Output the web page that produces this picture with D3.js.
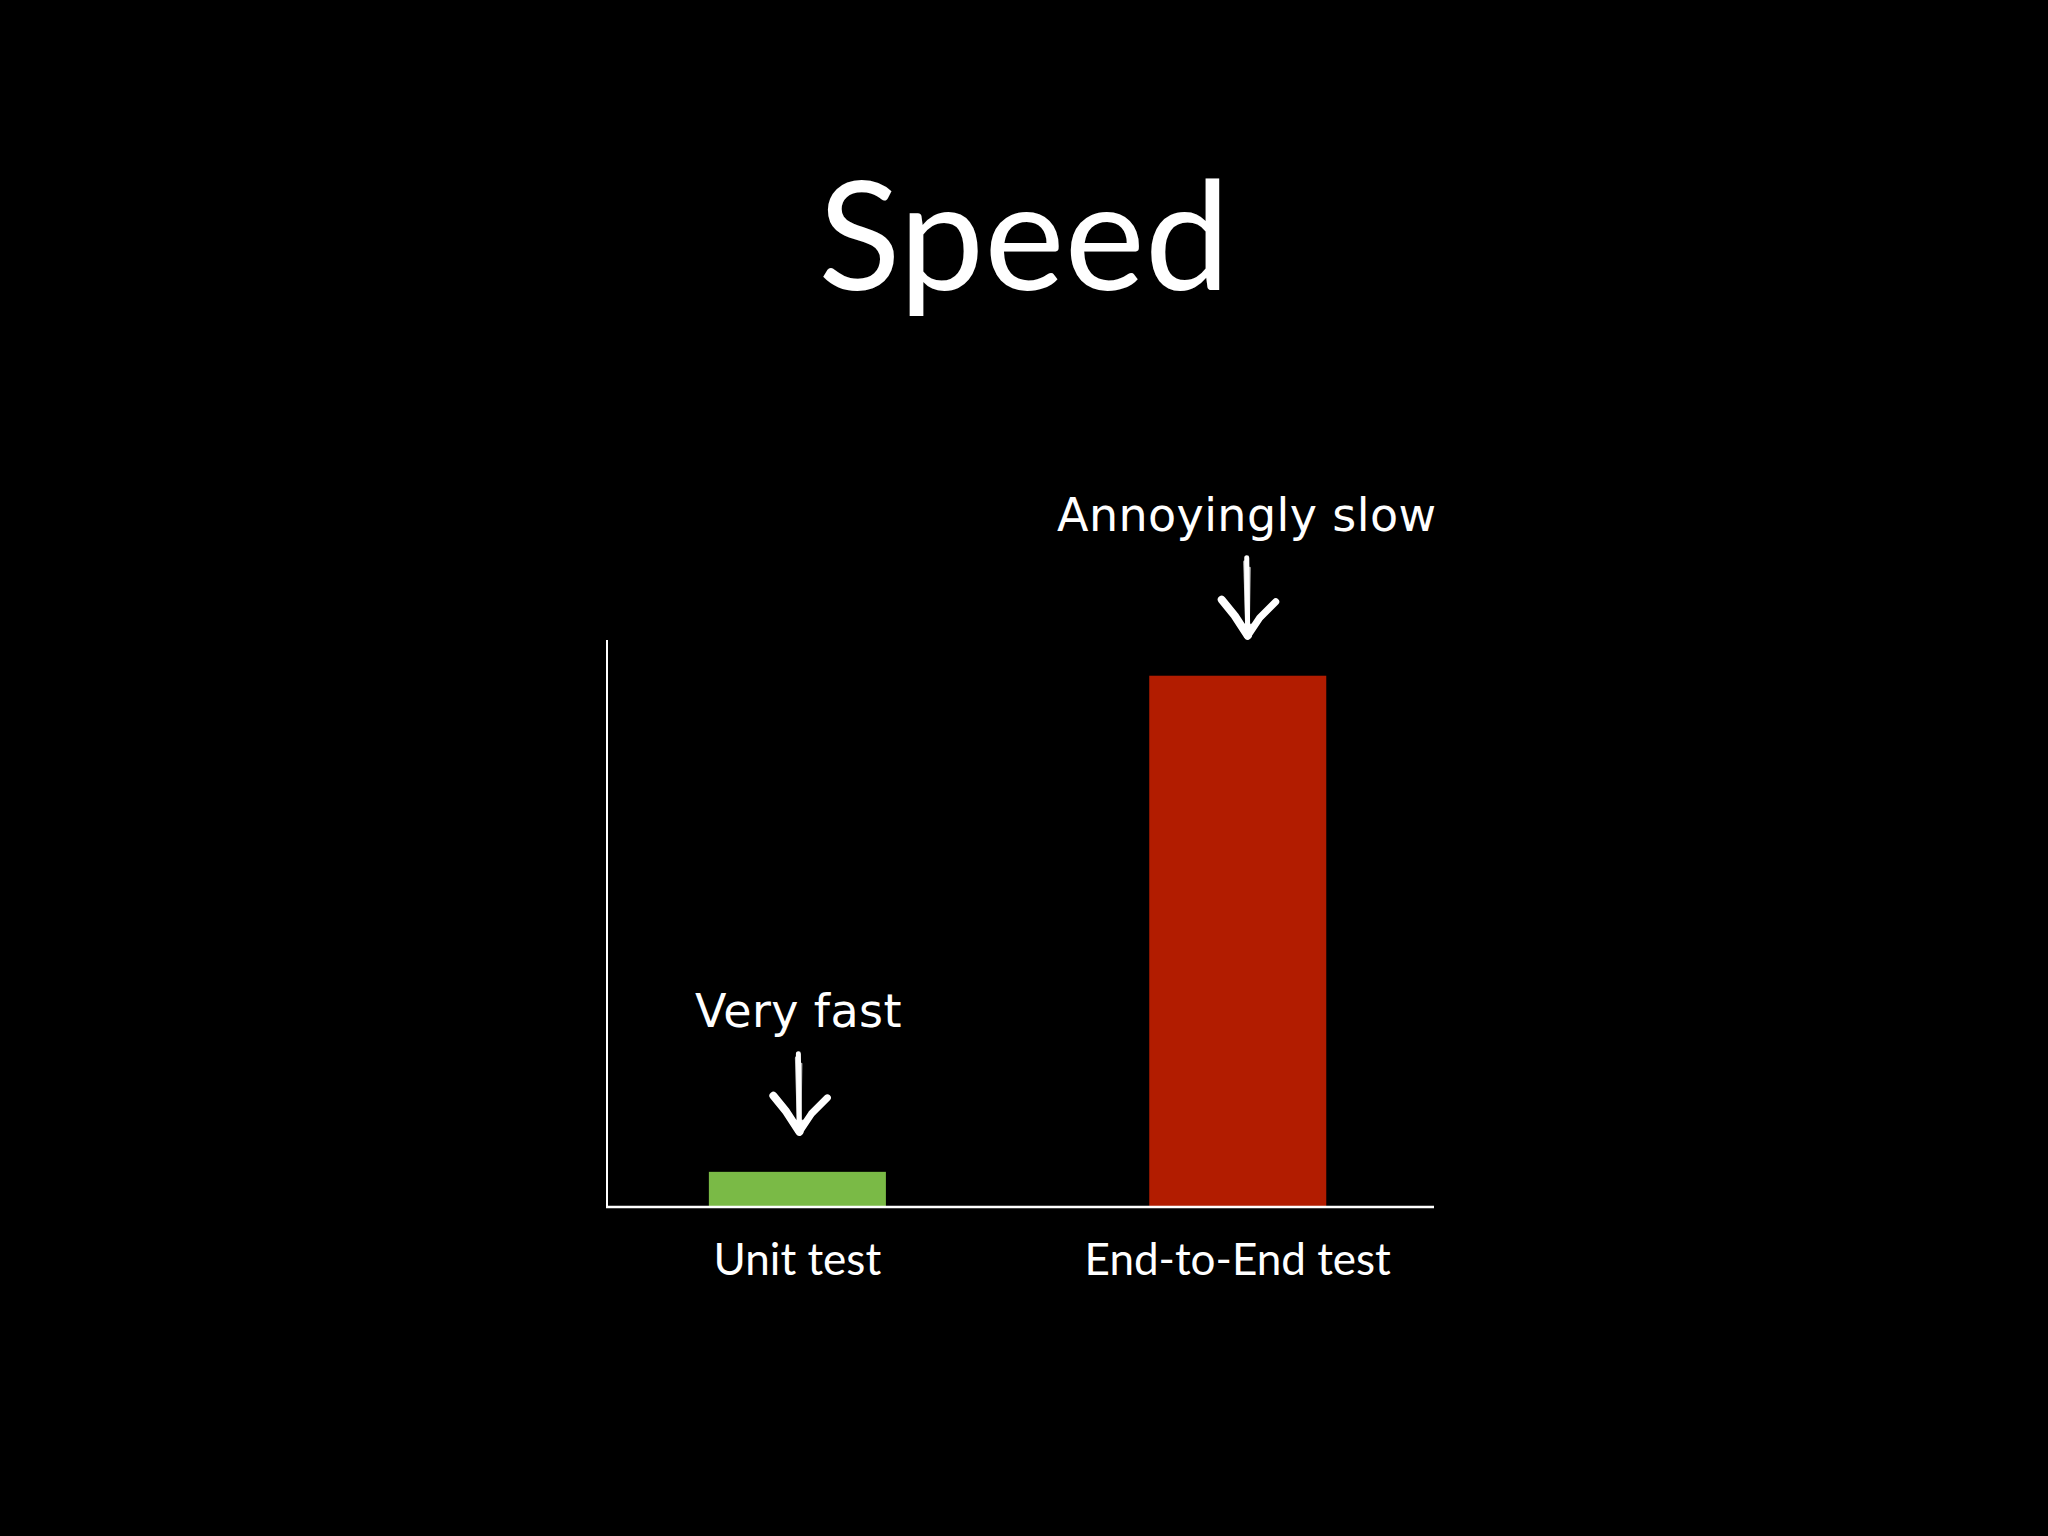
<!DOCTYPE html>
<html>
<head>
<meta charset="utf-8">
<script src="https://cdn.jsdelivr.net/npm/d3@7"></script>
<style>
  html, body { margin: 0; padding: 0; background: #000; }
  svg { display: block; }
</style>
</head>
<body>
<div id="chart"></div>
<script>
// data
const categories = ['Unit test', 'End-to-End test'];
const speedValues = [6.2, 93.7];
const notes = ['Very fast', 'Annoyingly slow'];
const barColors = ['#7aba46', '#b21c00'];

let width = 2048;
let height = 1536;

// plot box
let plotLeft = 607, plotRight = 1434, plotBottom = 1207, plotTop = 640;

var svg = d3.select('#chart')
  .append('svg')
  .attr('width', width)
  .attr('height', height)
  .style('background', '#000');

var x = d3.scaleBand()
  .domain(categories)
  .range([plotLeft, plotRight])
  .paddingInner(0.598)
  .paddingOuter(0.238)
  .align(0.486);

var y = d3.scaleLinear().domain([0, 100]).range([plotBottom, plotTop]);

// title
svg.append('text')
  .attr('x', 1024)
  .attr('y', 290)
  .attr('text-anchor', 'middle')
  .attr('fill', '#fff')
  .style('font-family', 'Lato, sans-serif')
  .style('font-size', '152px')
  .text('Speed');

var rows = categories.map(function(c, i){
  return { name: c, value: speedValues[i], note: notes[i], color: barColors[i] };
});

// bars
svg.selectAll('.bar')
  .data(rows)
  .enter().append('rect')
  .attr('class', 'bar')
  .attr('x', function(d){ return x(d.name); })
  .attr('y', function(d){ return y(d.value); })
  .attr('width', x.bandwidth())
  .attr('height', function(d){ return y(0) - y(d.value); })
  .attr('fill', function(d){ return d.color; });

// axes: plain lines, no ticks
svg.append('line')
  .attr('x1', plotLeft).attr('x2', plotLeft)
  .attr('y1', y(100)).attr('y2', y(0) + 1)
  .attr('stroke', '#fff').attr('stroke-width', 2);
svg.append('line')
  .attr('x1', plotLeft - 1).attr('x2', plotRight)
  .attr('y1', y(0)).attr('y2', y(0))
  .attr('stroke', '#fff').attr('stroke-width', 2.5);

// category labels
svg.selectAll('.cat')
  .data(rows)
  .enter().append('text')
  .attr('class', 'cat')
  .attr('x', function(d){ return x(d.name) + x.bandwidth() / 2; })
  .attr('y', 1275)
  .attr('text-anchor', 'middle')
  .attr('fill', '#fff')
  .style('font-family', 'Lato, sans-serif')
  .style('font-size', '44px')
  .text(function(d){ return d.name; });

// notes above bars
var notesG = svg.selectAll('.note')
  .data(rows)
  .enter().append('g')
  .attr('class', 'note')
  .attr('transform', function(d, i){
    var cx = x(d.name) + x.bandwidth() / 2 + (i === 1 ? 9 : 1);
    return 'translate(' + cx + ',' + y(d.value) + ')';
  });

notesG.append('text')
  .attr('x', 0)
  .attr('y', -145)
  .attr('text-anchor', 'middle')
  .attr('fill', '#fff')
  .style('font-family', '"DejaVu Sans", sans-serif')
  .style('font-size', '46px')
  .style('letter-spacing', '0.4px')
  .text(function(d){ return d.note; });

// chalky hand drawn arrow, a few overlapping strokes
var strokes = [
  { d: 'M0,-118 L1,-40', w: 5, o: 1 },
  { d: 'M-2,-114 L0,-44', w: 3, o: 0.8 },
  { d: 'M3,-108 L2,-42', w: 2, o: 0.7 },
  { d: 'M-25,-76 L-12,-60 L1,-40', w: 8, o: 1 },
  { d: 'M-21,-70 L-4,-48', w: 3, o: 0.7 },
  { d: 'M1,-40 L13,-58 L29,-74', w: 7, o: 1 },
  { d: 'M5,-46 L22,-66', w: 3, o: 0.7 },
  { d: 'M-6,-50 L6,-50', w: 4, o: 0.9 }
];

notesG.each(function(){
  var g = d3.select(this);
  strokes.forEach(function(s){
    g.append('path')
      .attr('d', s.d)
      .attr('fill', 'none')
      .attr('stroke', '#fff')
      .attr('stroke-opacity', s.o)
      .attr('stroke-width', s.w)
      .attr('stroke-linecap', 'round')
      .attr('stroke-linejoin', 'round');
  });
});
</script>
</body>
</html>
